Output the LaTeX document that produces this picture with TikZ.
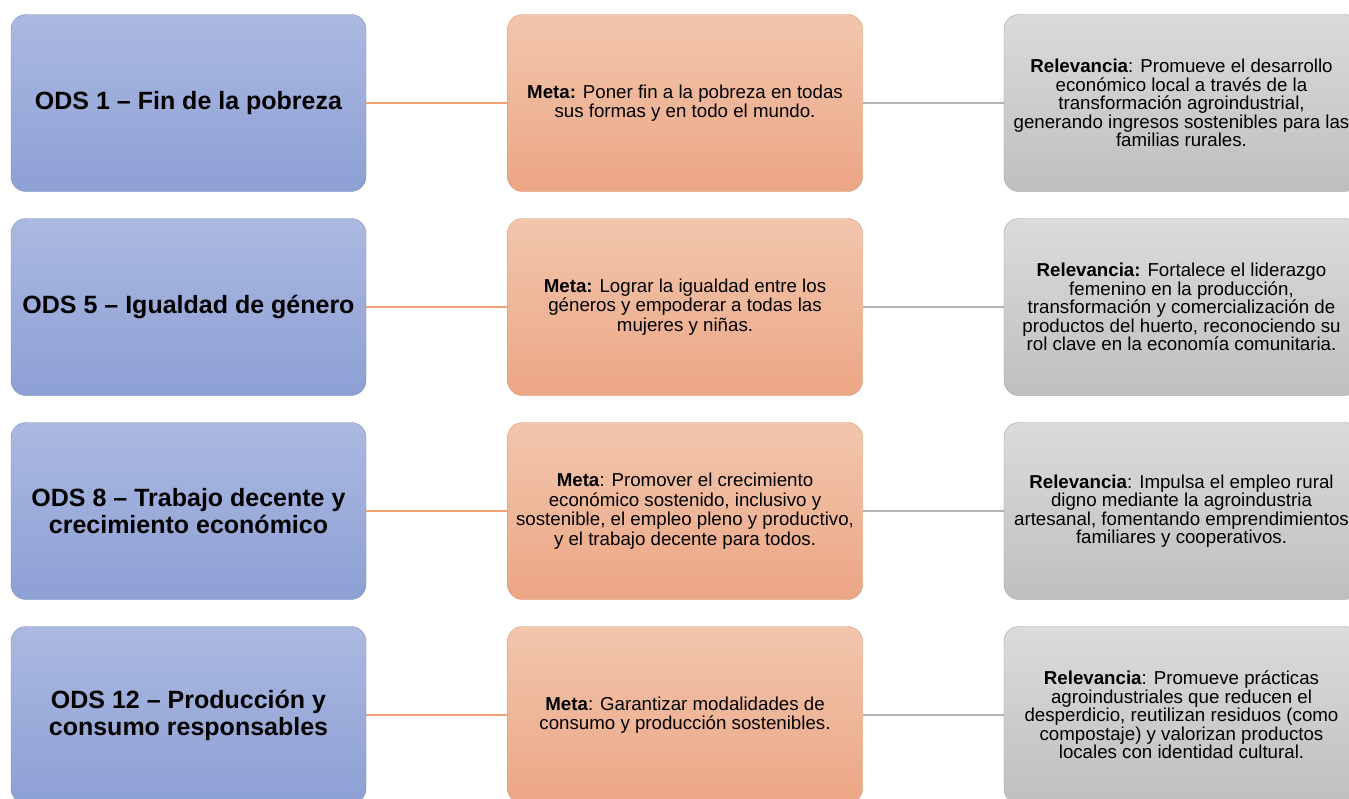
\documentclass[tikz,border=0pt]{standalone}
\usepackage{fontspec}
\setmainfont{Liberation Sans}
\usepackage{tikz}
\usetikzlibrary{positioning}
\definecolor{odsblue}{RGB}{171,185,225}
\definecolor{odsbluedark}{RGB}{141,160,213}
\definecolor{odsblueline}{RGB}{128,142,186}
\definecolor{metaorange}{RGB}{242,198,172}
\definecolor{metaorangedark}{RGB}{236,166,133}
\definecolor{metaline}{RGB}{212,150,118}
\definecolor{relgray}{RGB}{219,219,219}
\definecolor{relgraydark}{RGB}{191,191,191}
\definecolor{relline}{RGB}{158,158,158}
\definecolor{linkorange}{RGB}{240,163,115}
\definecolor{linkgray}{RGB}{176,179,186}
\tikzstyle{odsbox} = [rectangle, rounded corners=15pt, minimum width=355pt, minimum height=177pt, align=center, top color=odsblue, bottom color=odsbluedark, draw=odsblueline, font=\fontsize{25}{27}\selectfont\bfseries]
\tikzstyle{metabox} = [rectangle, rounded corners=15pt, minimum width=355pt, minimum height=177pt, align=center, top color=metaorange, bottom color=metaorangedark, draw=metaline, font=\fontsize{18.7}{19.5}\selectfont]
\tikzstyle{relbox} = [rectangle, rounded corners=15pt, minimum width=355pt, minimum height=177pt, align=center, top color=relgray, bottom color=relgraydark, draw=relline, font=\fontsize{18.7}{18.5}\selectfont]
\tikzstyle{link} = [line width=2pt]

\begin{document}
\begin{tikzpicture}
\clip (0,0) rectangle (1349pt,-798pt);
\fill[white] (0,0) rectangle (1349pt,-798pt);
% First column: the goals
\node (ods1) [odsbox] at (188.5pt,-103pt) {ODS 1 -- Fin de la pobreza};
\node (ods5) [odsbox, below of=ods1, node distance=204pt] {ODS 5 -- Igualdad de género};
\node (ods8) [odsbox, below of=ods5, node distance=204pt] {ODS 8 -- Trabajo decente y\\crecimiento económico};
\node (ods12) [odsbox, below of=ods8, node distance=204pt] {ODS 12 -- Producción y\\consumo responsables};

% Second column: the targets
\node (meta1) [metabox, right of=ods1, node distance=496.5pt] {
\textbf{Meta:} Poner fin a la pobreza en todas\\
sus formas y en todo el mundo.
};
\node (meta5) [metabox, right of=ods5, node distance=496.5pt] {
\textbf{Meta:} Lograr la igualdad entre los\\
géneros y empoderar a todas las\\
mujeres y niñas.
};
\node (meta8) [metabox, right of=ods8, node distance=496.5pt] {
\textbf{Meta}: Promover el crecimiento\\
económico sostenido, inclusivo y\\
sostenible, el empleo pleno y productivo,\\
y el trabajo decente para todos.
};
\node (meta12) [metabox, right of=ods12, node distance=496.5pt] {
\textbf{Meta}: Garantizar modalidades de\\
consumo y producción sostenibles.
};

% Third column: why it matters
\node (rel1) [relbox, right of=meta1, node distance=496.5pt] {
\textbf{Relevancia}: Promueve el desarrollo\\
económico local a través de la\\
transformación agroindustrial,\\
generando ingresos sostenibles para las\\
familias rurales.
};
\node (rel5) [relbox, right of=meta5, node distance=496.5pt] {
\textbf{Relevancia:} Fortalece el liderazgo\\
femenino en la producción,\\
transformación y comercialización de\\
productos del huerto, reconociendo su\\
rol clave en la economía comunitaria.
};
\node (rel8) [relbox, right of=meta8, node distance=496.5pt] {
\textbf{Relevancia}: Impulsa el empleo rural\\
digno mediante la agroindustria\\
artesanal, fomentando emprendimientos\\
familiares y cooperativos.
};
\node (rel12) [relbox, right of=meta12, node distance=496.5pt] {
\textbf{Relevancia}: Promueve prácticas\\
agroindustriales que reducen el\\
desperdicio, reutilizan residuos (como\\
compostaje) y valorizan productos\\
locales con identidad cultural.
};

\draw[link, linkorange] (ods1) -- (meta1);
\draw[link, linkorange] (ods5) -- (meta5);
\draw[link, linkorange] (ods8) -- (meta8);
\draw[link, linkorange] (ods12) -- (meta12);
\draw[link, linkgray] (meta1) -- (rel1);
\draw[link, linkgray] (meta5) -- (rel5);
\draw[link, linkgray] (meta8) -- (rel8);
\draw[link, linkgray] (meta12) -- (rel12);
\end{tikzpicture}
\end{document}
